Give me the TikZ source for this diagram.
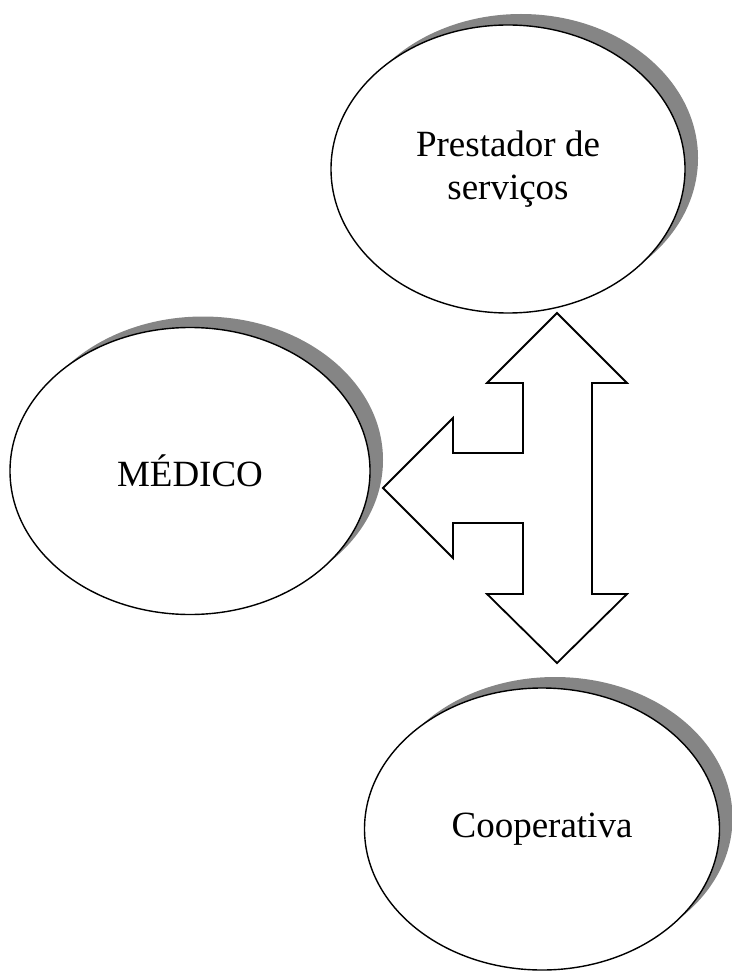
\documentclass[tikz,border=0pt]{standalone}
\usepackage{fontspec}
\setmainfont{Liberation Serif}
\usetikzlibrary{shapes.geometric,shadows}
\begin{document}
\begin{tikzpicture}[x=1pt,y=-1pt,
  party/.style={ellipse, draw=black, line width=1.4pt, fill=white, inner sep=0pt,
    align=center, font=\fontsize{37}{43}\selectfont,
    drop shadow={shadow xshift=13pt, shadow yshift=11pt, fill=black!48, opacity=1}},
  bigarrow/.style={draw=black, line width=1.8pt, fill=white, line join=miter}]
\useasboundingbox (0,0) rectangle (731,976);
\node[party, minimum width=354pt, minimum height=288pt] (prest) at (508,169) {Prestador de\\serviços};
\node[party, minimum width=360pt, minimum height=287pt] (med) at (190,471) {MÉDICO};
\node[party, minimum width=355pt, minimum height=282pt] (coop) at (542,829) {Cooperativa};
\coordinate (tt) at (prest.south);
\coordinate (tb) at (557,663);
\coordinate (tl) at (383,488);
\draw[bigarrow] (557,313) -- (627,383) -- (592,383) -- (592,594) -- (627,594) -- (tb)
  -- (487,594) -- (523,594) -- (523,523) -- (453,523) -- (453,558) -- (tl)
  -- (453,418) -- (453,453) -- (523,453) -- (523,383) -- (487,383) -- cycle;
\end{tikzpicture}
\end{document}
